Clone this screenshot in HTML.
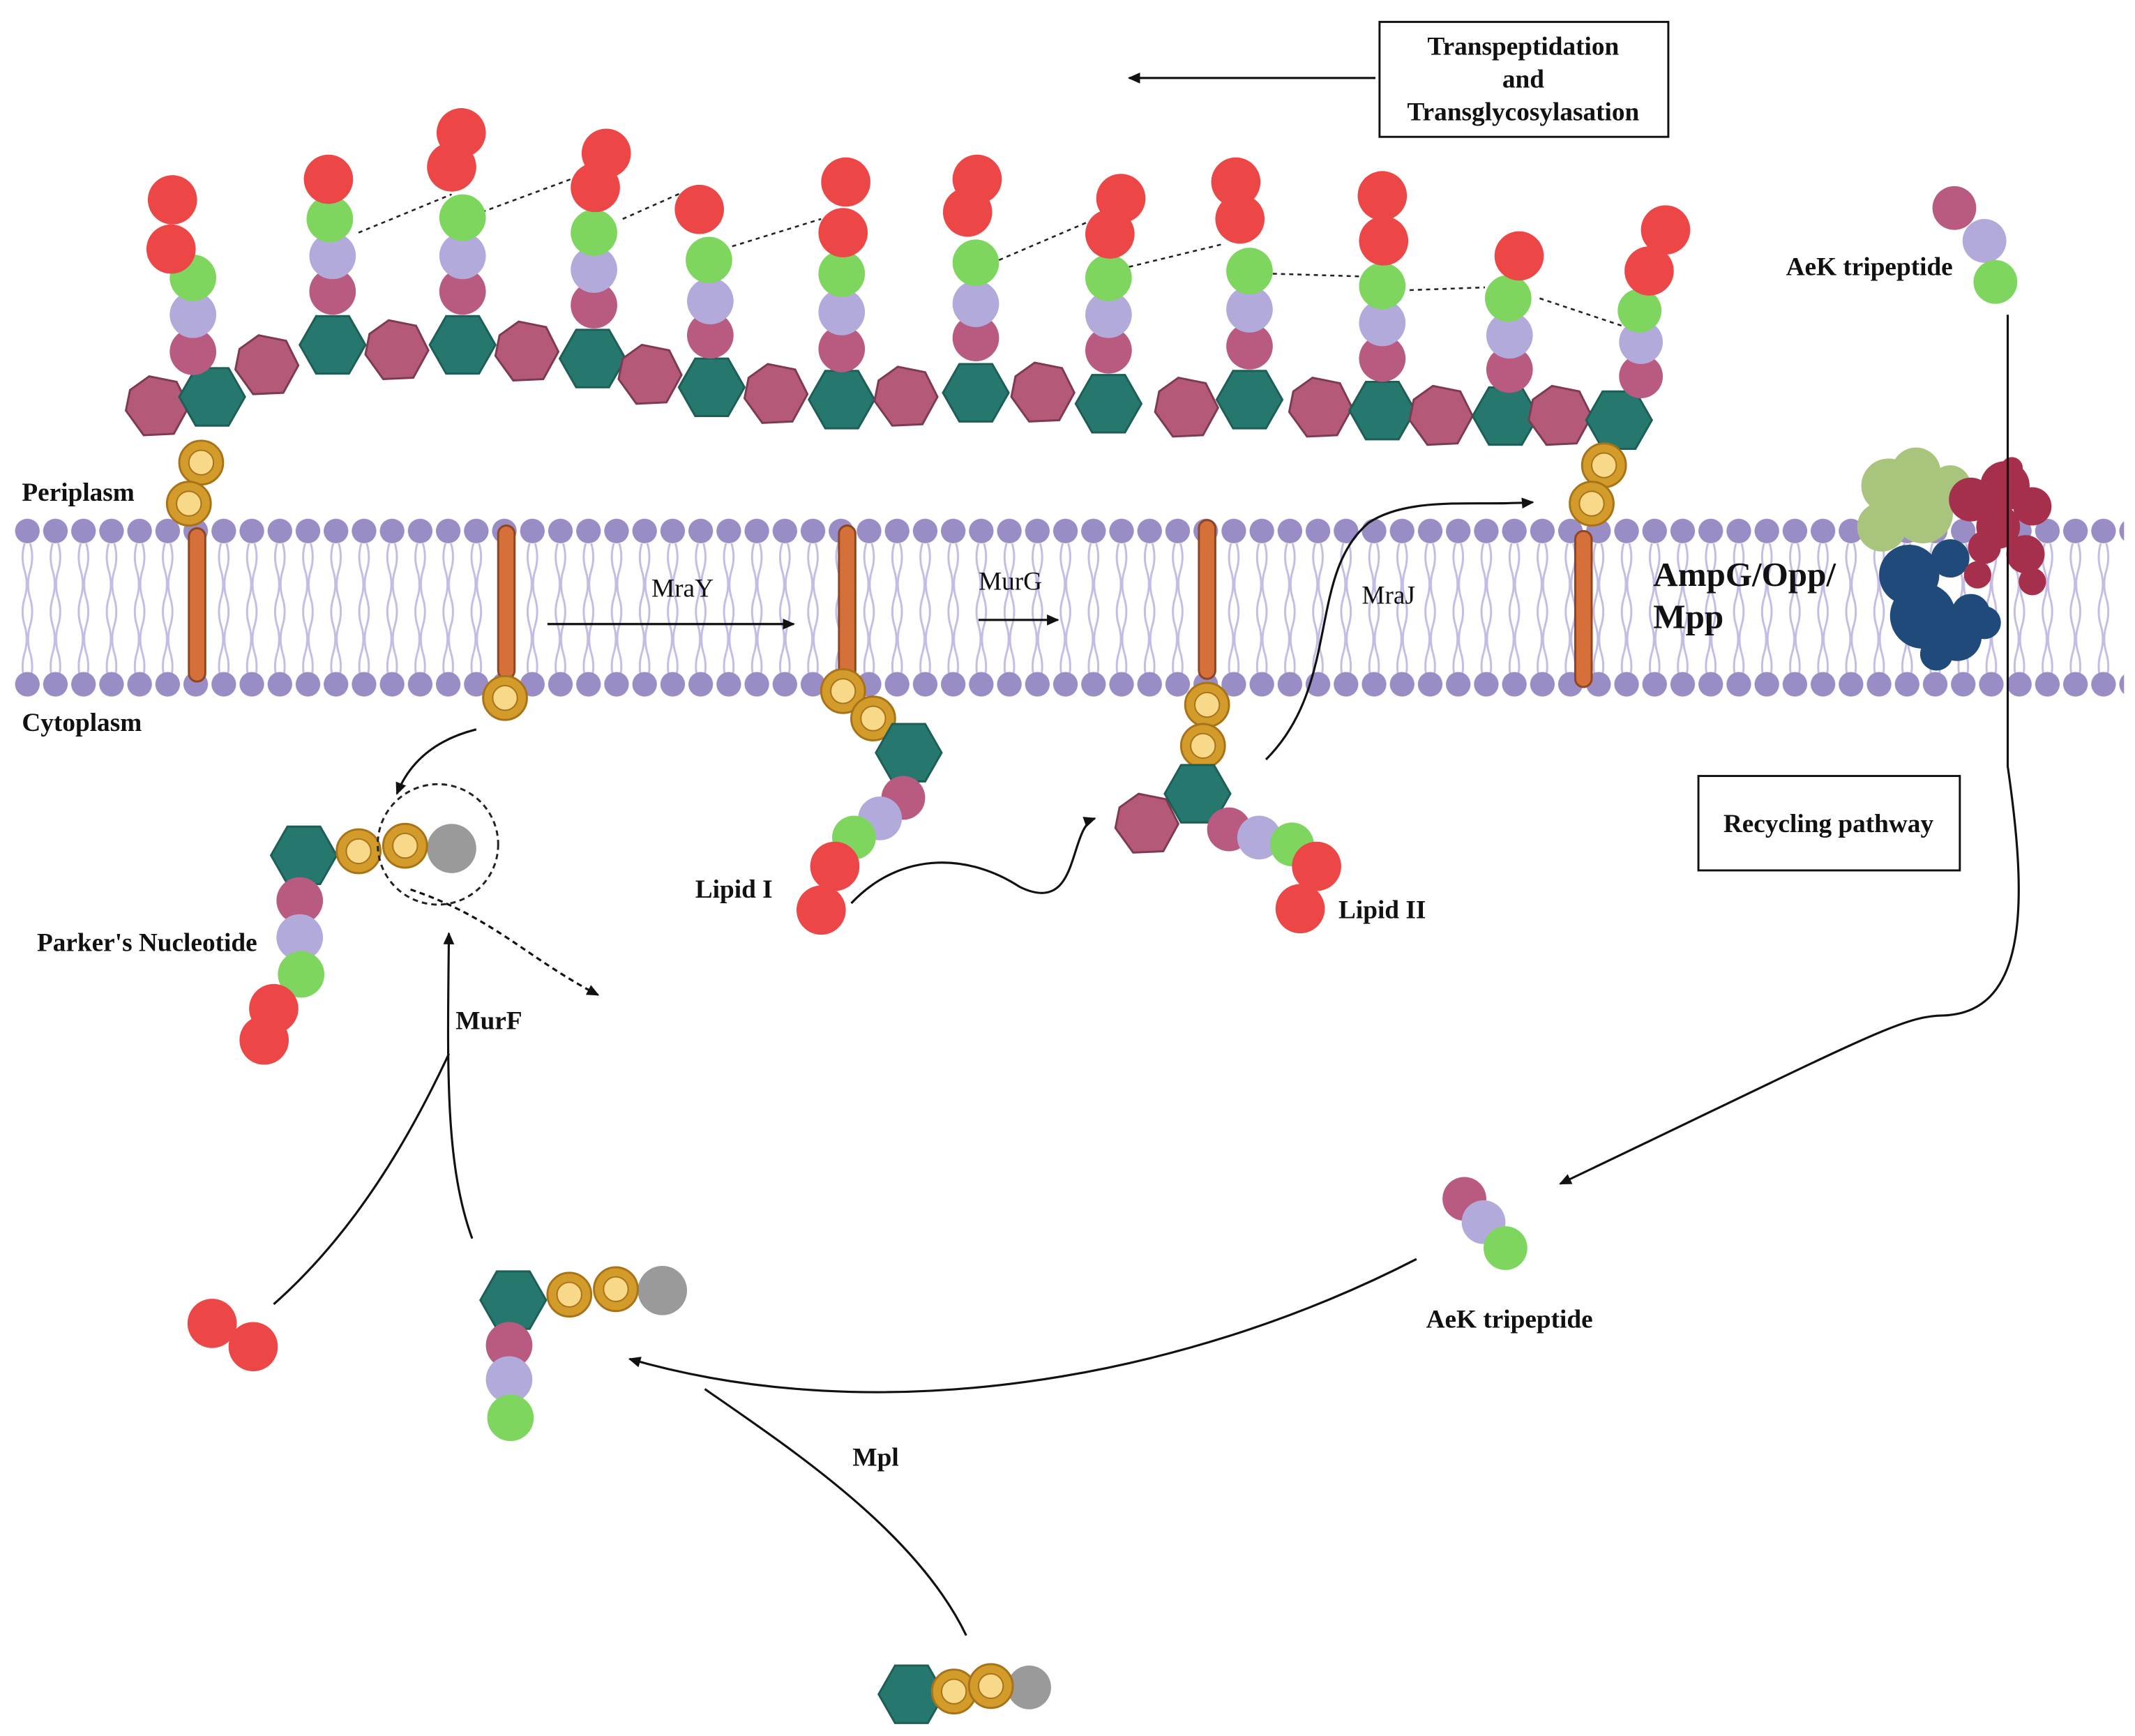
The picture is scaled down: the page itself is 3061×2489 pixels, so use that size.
<!DOCTYPE html>
<html><head><meta charset="utf-8"><style>
html,body{margin:0;padding:0;background:#fff;}
svg{display:block;}
text{font-family:"Liberation Serif",serif;fill:#111;}
</style></head><body>
<svg width="3061" height="2489" viewBox="0 0 1560 1268.5" preserveAspectRatio="none" xmlns="http://www.w3.org/2000/svg">
<defs>
<marker id="ar" markerWidth="10" markerHeight="10" refX="8" refY="5" orient="auto" markerUnits="userSpaceOnUse"><path d="M0,1 L9,5 L0,9 Z" fill="#111"/></marker>
<pattern id="heads" width="20.5" height="20" patternUnits="userSpaceOnUse" x="10" y="378"><circle cx="10" cy="10" r="9" fill="#9a8cc4"/></pattern>
<pattern id="headsB" width="20.5" height="20" patternUnits="userSpaceOnUse" x="10" y="490"><circle cx="10" cy="10" r="9" fill="#9a8cc4"/></pattern>
<pattern id="tails" width="20.5" height="40" patternUnits="userSpaceOnUse" x="10" y="397"><path d="M8,0 Q5,10 8,20 Q11,30 8,40 M12,0 Q15,10 12,20 Q9,30 12,40" stroke="#c4bce4" stroke-width="1.5" fill="none"/></pattern>
<g id="hex"><polygon points="-24,0 -12,-21 12,-21 24,0 12,21 -12,21" fill="#26786e" stroke="#1d5e56" stroke-width="1.5"/></g>
<g id="pent"><polygon points="-6,-22 14,-18 23,0 12,20 -10,21 -23,3 -20,-12" fill="#b45a78" stroke="#7e3a52" stroke-width="1.5"/></g>
<g id="ring"><circle r="16" fill="#d39c2a" stroke="#a87318" stroke-width="1.5"/><circle r="9" fill="#f8d98a" stroke="#a87318" stroke-width="1"/></g>
</defs>

<rect x="10" y="378" width="1542" height="20" fill="url(#heads)"/>
<rect x="10" y="397" width="1542" height="95" fill="url(#tails)"/>
<rect x="10" y="490" width="1542" height="20" fill="url(#headsB)"/>

<g stroke="#222" stroke-width="1.3" stroke-dasharray="3,3" fill="none">
<path d="M262,170 L330,142"/><path d="M352,155 L425,128"/><path d="M455,160 L500,140"/>
<path d="M535,180 L600,160"/><path d="M730,190 L800,160"/><path d="M825,195 L895,178"/>
<path d="M930,200 L995,202"/><path d="M1030,212 L1085,210"/><path d="M1125,218 L1185,238"/>
</g>

<use href="#pent" x="115" y="297"/><use href="#hex" x="155" y="290"/>
<use href="#pent" x="195" y="267"/><use href="#hex" x="243" y="252"/>
<use href="#pent" x="290" y="256"/><use href="#hex" x="338" y="252"/>
<use href="#pent" x="385" y="257"/><use href="#hex" x="433" y="262"/>
<use href="#pent" x="475" y="274"/><use href="#hex" x="520" y="283"/>
<use href="#pent" x="567" y="288"/><use href="#hex" x="615" y="292"/>
<use href="#pent" x="662" y="290"/><use href="#hex" x="713" y="287"/>
<use href="#pent" x="762" y="287"/><use href="#hex" x="810" y="295"/>
<use href="#pent" x="867" y="298"/><use href="#hex" x="913" y="292"/>
<use href="#pent" x="965" y="298"/><use href="#hex" x="1010" y="300"/>
<use href="#pent" x="1053" y="304"/><use href="#hex" x="1100" y="304"/>
<use href="#pent" x="1140" y="304"/><use href="#hex" x="1183" y="307"/>

<g stroke-width="1">
<g fill="#b95a80"><circle cx="141" cy="257" r="17"/><circle cx="243" cy="213" r="17"/><circle cx="338" cy="213" r="17"/><circle cx="434" cy="223" r="17"/><circle cx="519" cy="245" r="17"/><circle cx="615" cy="255" r="17"/><circle cx="713" cy="247" r="17"/><circle cx="810" cy="256" r="17"/><circle cx="913" cy="253" r="17"/><circle cx="1010" cy="262" r="17"/><circle cx="1103" cy="270" r="17"/><circle cx="1199" cy="275" r="16"/></g>
<g fill="#b2aadb"><circle cx="141" cy="230" r="17"/><circle cx="243" cy="187" r="17"/><circle cx="338" cy="187" r="17"/><circle cx="434" cy="197" r="17"/><circle cx="519" cy="220" r="17"/><circle cx="615" cy="228" r="17"/><circle cx="713" cy="222" r="17"/><circle cx="810" cy="230" r="17"/><circle cx="913" cy="226" r="17"/><circle cx="1010" cy="236" r="17"/><circle cx="1103" cy="245" r="17"/><circle cx="1199" cy="250" r="16"/></g>
<g fill="#7ed65e"><circle cx="141" cy="203" r="17"/><circle cx="241" cy="160" r="17"/><circle cx="338" cy="159" r="17"/><circle cx="434" cy="170" r="17"/><circle cx="518" cy="190" r="17"/><circle cx="615" cy="200" r="17"/><circle cx="713" cy="192" r="17"/><circle cx="810" cy="203" r="17"/><circle cx="913" cy="198" r="17"/><circle cx="1010" cy="209" r="17"/><circle cx="1102" cy="218" r="17"/><circle cx="1198" cy="227" r="16"/></g>
<g fill="#ec4646"><circle cx="126" cy="146" r="18"/><circle cx="125" cy="182" r="18"/><circle cx="240" cy="131" r="18"/><circle cx="337" cy="97" r="18"/><circle cx="330" cy="122" r="18"/><circle cx="443" cy="112" r="18"/><circle cx="435" cy="137" r="18"/><circle cx="511" cy="153" r="18"/><circle cx="618" cy="133" r="18"/><circle cx="616" cy="170" r="18"/><circle cx="714" cy="131" r="18"/><circle cx="707" cy="155" r="18"/><circle cx="819" cy="145" r="18"/><circle cx="811" cy="171" r="18"/><circle cx="903" cy="133" r="18"/><circle cx="906" cy="160" r="18"/><circle cx="1010" cy="143" r="18"/><circle cx="1011" cy="176" r="18"/><circle cx="1110" cy="187" r="18"/><circle cx="1217" cy="168" r="18"/><circle cx="1205" cy="198" r="18"/></g>
</g>

<g fill="#d5703a" stroke="#8e4620" stroke-width="1.5">
<rect x="138" y="386" width="12" height="112" rx="6"/><rect x="364" y="384" width="12" height="112" rx="6"/>
<rect x="613" y="384" width="12" height="112" rx="6"/><rect x="876" y="380" width="12" height="116" rx="6"/>
<rect x="1151" y="388" width="12" height="114" rx="6"/>
</g>
<use href="#ring" x="147" y="338"/><use href="#ring" x="138" y="368"/>
<use href="#ring" x="1172" y="340"/><use href="#ring" x="1163" y="368"/>
<use href="#ring" x="369" y="510"/>
<use href="#ring" x="616" y="505"/><use href="#ring" x="638" y="525"/>
<use href="#ring" x="882" y="515"/><use href="#ring" x="879" y="545"/>

<use href="#hex" x="664" y="550"/>
<circle cx="660" cy="583" r="16" fill="#b95a80"/><circle cx="643" cy="598" r="16" fill="#b2aadb"/><circle cx="624" cy="612" r="16" fill="#7ed65e"/>
<circle cx="610" cy="633" r="18" fill="#ec4646"/><circle cx="600" cy="665" r="18" fill="#ec4646"/>
<use href="#pent" x="838" y="602"/><use href="#hex" x="875" y="580"/>
<circle cx="898" cy="606" r="16" fill="#b95a80"/><circle cx="920" cy="612" r="16" fill="#b2aadb"/><circle cx="944" cy="617" r="16" fill="#7ed65e"/>
<circle cx="962" cy="633" r="18" fill="#ec4646"/><circle cx="950" cy="664" r="18" fill="#ec4646"/>

<use href="#hex" x="222" y="625"/>
<circle cx="330" cy="620" r="18" fill="#9a9a9a"/>
<use href="#ring" x="262" y="622"/><use href="#ring" x="296" y="618"/>
<circle cx="219" cy="658" r="17" fill="#b95a80"/><circle cx="219" cy="685" r="17" fill="#b2aadb"/><circle cx="220" cy="712" r="17" fill="#7ed65e"/>
<circle cx="200" cy="737" r="18" fill="#ec4646"/><circle cx="193" cy="760" r="18" fill="#ec4646"/>
<circle cx="320" cy="617" r="44" fill="none" stroke="#222" stroke-width="1.5" stroke-dasharray="4,3"/>

<use href="#hex" x="375" y="950"/>
<circle cx="484" cy="943" r="18" fill="#9a9a9a"/>
<use href="#ring" x="416" y="946"/><use href="#ring" x="450" y="942"/>
<circle cx="372" cy="983" r="17" fill="#b95a80"/><circle cx="372" cy="1008" r="17" fill="#b2aadb"/><circle cx="373" cy="1036" r="17" fill="#7ed65e"/>
<circle cx="155" cy="967" r="18" fill="#ec4646"/><circle cx="185" cy="984" r="18" fill="#ec4646"/>

<use href="#hex" x="666" y="1238"/>
<circle cx="752" cy="1233" r="16" fill="#9a9a9a"/>
<use href="#ring" x="697" y="1236"/><use href="#ring" x="724" y="1232"/>

<circle cx="1428" cy="152" r="16" fill="#b95a80"/><circle cx="1450" cy="176" r="16" fill="#b2aadb"/><circle cx="1458" cy="206" r="16" fill="#7ed65e"/>
<circle cx="1070" cy="876" r="16" fill="#b95a80"/><circle cx="1084" cy="893" r="16" fill="#b2aadb"/><circle cx="1100" cy="912" r="16" fill="#7ed65e"/>

<g fill="#a9c47c"><circle cx="1380" cy="355" r="20"/><circle cx="1400" cy="345" r="18"/><circle cx="1375" cy="385" r="18"/><circle cx="1405" cy="375" r="22"/><circle cx="1425" cy="355" r="15"/></g>
<g fill="#1f4a7a"><circle cx="1395" cy="420" r="22"/><circle cx="1405" cy="450" r="24"/><circle cx="1430" cy="465" r="18"/><circle cx="1415" cy="478" r="12"/><circle cx="1440" cy="448" r="14"/><circle cx="1425" cy="408" r="14"/><circle cx="1450" cy="455" r="12"/></g>
<g fill="#a6304c"><circle cx="1440" cy="365" r="16"/><circle cx="1465" cy="355" r="18"/><circle cx="1485" cy="370" r="14"/><circle cx="1460" cy="385" r="16"/><circle cx="1480" cy="405" r="14"/><circle cx="1485" cy="425" r="10"/><circle cx="1445" cy="420" r="10"/><circle cx="1450" cy="400" r="12"/><circle cx="1470" cy="342" r="8"/></g>

<g stroke="#111" stroke-width="1.6" fill="none">
<path d="M1005,57 L825,57" marker-end="url(#ar)"/>
<path d="M400,456 L580,456" marker-end="url(#ar)"/>
<path d="M715,453 L773,453" marker-end="url(#ar)"/>
<path d="M348,533 C320,540 300,555 290,580" marker-end="url(#ar)"/>
<path d="M622,660 C660,620 710,625 745,648 C790,670 780,605 800,598" marker-end="url(#ar)"/>
<path d="M925,555 C980,500 955,420 1000,382 C1030,362 1080,370 1120,367" marker-end="url(#ar)"/>
<path d="M300,650 C360,670 385,700 437,727" stroke-dasharray="4,3" marker-end="url(#ar)"/>
<path d="M345,905 C325,850 327,780 328,682" marker-end="url(#ar)"/>
<path d="M200,953 C260,900 300,830 328,770"/>
<path d="M1467,230 L1467,560 C1480,650 1485,740 1420,742 C1390,742 1360,760 1140,865" marker-end="url(#ar)"/>
<path d="M1035,920 C860,1010 640,1045 460,993" marker-end="url(#ar)"/>
<path d="M706,1195 C670,1120 580,1060 515,1015"/>
</g>

<rect x="1008" y="16" width="211" height="84" fill="#fff" stroke="#111" stroke-width="1.5"/>
<g font-weight="bold" font-size="19">
<text x="1113" y="40" text-anchor="middle">Transpeptidation</text>
<text x="1113" y="64" text-anchor="middle">and</text>
<text x="1113" y="88" text-anchor="middle">Transglycosylasation</text>
</g>
<rect x="1241" y="567" width="191" height="69" fill="#fff" stroke="#111" stroke-width="1.5"/>
<text x="1336" y="608" font-size="19" font-weight="bold" text-anchor="middle">Recycling pathway</text>

<g font-size="19" font-weight="bold">
<text x="16" y="366">Periplasm</text>
<text x="16" y="534">Cytoplasm</text>
<text x="1305" y="201">AeK tripeptide</text>
<text x="508" y="656">Lipid I</text>
<text x="978" y="671">Lipid II</text>
<text x="27" y="695">Parker's Nucleotide</text>
<text x="333" y="752">MurF</text>
<text x="1042" y="970">AeK tripeptide</text>
<text x="623" y="1071">Mpl</text>
</g>
<g font-size="19">
<text x="476" y="436" fill="#333">MraY</text>
<text x="715" y="431" fill="#333">MurG</text>
<text x="995" y="441" fill="#333">MraJ</text>
</g>
<text x="1208" y="428" font-size="25" font-weight="bold">AmpG/Opp/</text>
<text x="1208" y="459" font-size="25" font-weight="bold">Mpp</text>
</svg>
</body></html>
